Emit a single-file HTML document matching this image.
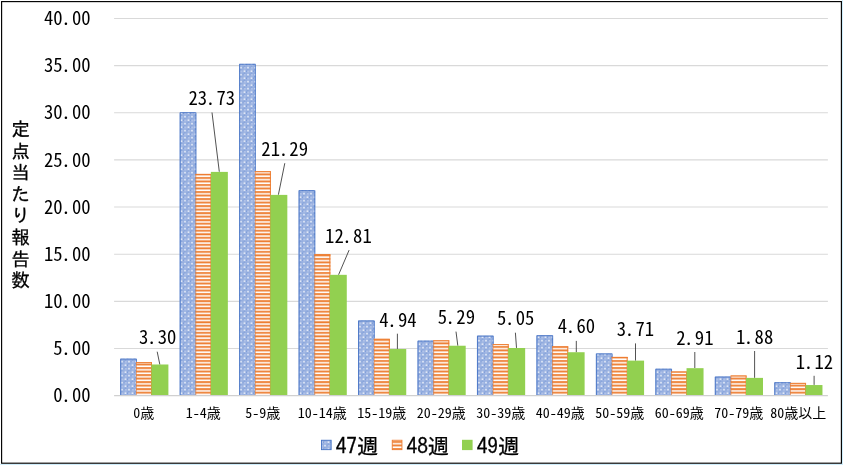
<!DOCTYPE html>
<html lang="ja"><head><meta charset="utf-8"><title>定点当たり報告数</title>
<style>
html,body{margin:0;padding:0;background:#cfeefc;}
body{width:843px;height:465px;overflow:hidden;}
svg{display:block;}
svg{will-change:transform;}
text{font-family:"IPAGothic","Noto Sans CJK JP","Liberation Sans",sans-serif;fill:#000;}
.ax,.dl,.cat{font-family:"Noto Sans CJK JP","IPAGothic","Liberation Sans",sans-serif;font-feature-settings:"hwid";}
.ax{font-size:18.67px;}
.dl{font-size:18.67px;}
.cat{font-size:14px;}
.lg{font-size:21.33px;stroke:#000;stroke-width:0.3px;}
.yt{font-size:18.67px;stroke:#000;stroke-width:0.3px;}
</style></head><body>
<svg width="843" height="465" viewBox="0 0 843 465">
<defs>
<pattern id="pb" width="7" height="7" patternUnits="userSpaceOnUse" patternTransform="translate(1.25,2.8)">
<rect width="7" height="7" fill="#a5bae5"/>
<path d="M0 0.4H7M0 3.9H7M0.4 0V7M3.9 0V7" stroke="#92abde" stroke-width="0.9" fill="none"/>
<rect x="1.05" y="1.1" width="1.5" height="1.4" fill="#ffffff"/>
<rect x="4.55" y="4.6" width="1.5" height="1.4" fill="#ffffff"/>
<rect x="4.6" y="1.2" width="1.3" height="1.2" fill="#c3d1ef"/>
<rect x="1.1" y="4.7" width="1.3" height="1.2" fill="#c3d1ef"/>
<rect x="3.3" y="1.3" width="1.1" height="1" fill="#5f85ce"/>
<rect x="-0.2" y="4.8" width="1.1" height="1" fill="#5f85ce"/>
<rect x="6.8" y="4.8" width="1.1" height="1" fill="#5f85ce"/>
<rect x="1.3" y="3.3" width="1" height="1.1" fill="#6f91d3"/>
<rect x="4.8" y="-0.2" width="1" height="1.1" fill="#6f91d3"/>
<rect x="4.8" y="6.8" width="1" height="1.1" fill="#6f91d3"/>
</pattern>
<pattern id="po" width="3.52" height="3.52" patternUnits="userSpaceOnUse">
<rect width="3.52" height="3.52" fill="#ffffff"/>
<rect y="1.03" width="3.52" height="1.9" fill="#ed7d31"/>
</pattern>
</defs>
<rect x="0" y="0" width="842" height="464" fill="#ffffff"/>

<line x1="114.1" y1="348.46" x2="827.9" y2="348.46" stroke="#d9d9d9" stroke-width="1.1"/>
<line x1="114.1" y1="301.33" x2="827.9" y2="301.33" stroke="#d9d9d9" stroke-width="1.1"/>
<line x1="114.1" y1="254.19" x2="827.9" y2="254.19" stroke="#d9d9d9" stroke-width="1.1"/>
<line x1="114.1" y1="207.05" x2="827.9" y2="207.05" stroke="#d9d9d9" stroke-width="1.1"/>
<line x1="114.1" y1="159.91" x2="827.9" y2="159.91" stroke="#d9d9d9" stroke-width="1.1"/>
<line x1="114.1" y1="112.78" x2="827.9" y2="112.78" stroke="#d9d9d9" stroke-width="1.1"/>
<line x1="114.1" y1="65.64" x2="827.9" y2="65.64" stroke="#d9d9d9" stroke-width="1.1"/>
<line x1="114.1" y1="18.50" x2="827.9" y2="18.50" stroke="#d9d9d9" stroke-width="1.1"/>
<rect x="120.20" y="358.60" width="16.70" height="37.00" fill="url(#pb)"/>
<path d="M120.70 395.6 V359.10 H136.40 V395.6" fill="none" stroke="#4472c4" stroke-opacity="0.85" stroke-width="1.0"/>
<rect x="136.20" y="362.10" width="15.80" height="33.50" fill="url(#po)"/>
<path d="M151.50 395.6 V362.60" fill="none" stroke="#ed7d31" stroke-width="1.0"/>
<path d="M136.40 395.6 V362.60" fill="none" stroke="#ed7d31" stroke-opacity="0.6" stroke-width="1.0"/>
<path d="M135.90 362.60 H152.00" fill="none" stroke="#ed7d31" stroke-width="1.0"/>
<rect x="151.40" y="364.49" width="17.00" height="31.11" fill="#92d050"/>
<rect x="179.66" y="112.20" width="16.70" height="283.40" fill="url(#pb)"/>
<path d="M180.16 395.6 V112.70 H195.86 V395.6" fill="none" stroke="#4472c4" stroke-opacity="0.85" stroke-width="1.0"/>
<rect x="195.66" y="173.90" width="15.80" height="221.70" fill="url(#po)"/>
<path d="M210.96 395.6 V174.40" fill="none" stroke="#ed7d31" stroke-width="1.0"/>
<path d="M195.86 395.6 V174.40" fill="none" stroke="#ed7d31" stroke-opacity="0.6" stroke-width="1.0"/>
<path d="M195.36 174.40 H211.46" fill="none" stroke="#ed7d31" stroke-width="1.0"/>
<rect x="210.86" y="171.89" width="17.00" height="223.71" fill="#92d050"/>
<rect x="239.12" y="63.80" width="16.70" height="331.80" fill="url(#pb)"/>
<path d="M239.62 395.6 V64.30 H255.32 V395.6" fill="none" stroke="#4472c4" stroke-opacity="0.85" stroke-width="1.0"/>
<rect x="255.12" y="171.20" width="15.80" height="224.40" fill="url(#po)"/>
<path d="M270.42 395.6 V171.70" fill="none" stroke="#ed7d31" stroke-width="1.0"/>
<path d="M255.32 395.6 V171.70" fill="none" stroke="#ed7d31" stroke-opacity="0.6" stroke-width="1.0"/>
<path d="M254.82 171.70 H270.92" fill="none" stroke="#ed7d31" stroke-width="1.0"/>
<rect x="270.32" y="194.89" width="17.00" height="200.71" fill="#92d050"/>
<rect x="298.58" y="190.10" width="16.70" height="205.50" fill="url(#pb)"/>
<path d="M299.08 395.6 V190.60 H314.78 V395.6" fill="none" stroke="#4472c4" stroke-opacity="0.85" stroke-width="1.0"/>
<rect x="314.58" y="254.10" width="15.80" height="141.50" fill="url(#po)"/>
<path d="M329.88 395.6 V254.60" fill="none" stroke="#ed7d31" stroke-width="1.0"/>
<path d="M314.78 395.6 V254.60" fill="none" stroke="#ed7d31" stroke-opacity="0.6" stroke-width="1.0"/>
<path d="M314.28 254.60 H330.38" fill="none" stroke="#ed7d31" stroke-width="1.0"/>
<rect x="329.78" y="274.83" width="17.00" height="120.77" fill="#92d050"/>
<rect x="358.04" y="320.40" width="16.70" height="75.20" fill="url(#pb)"/>
<path d="M358.54 395.6 V320.90 H374.24 V395.6" fill="none" stroke="#4472c4" stroke-opacity="0.85" stroke-width="1.0"/>
<rect x="374.04" y="338.70" width="15.80" height="56.90" fill="url(#po)"/>
<path d="M389.34 395.6 V339.20" fill="none" stroke="#ed7d31" stroke-width="1.0"/>
<path d="M374.24 395.6 V339.20" fill="none" stroke="#ed7d31" stroke-opacity="0.6" stroke-width="1.0"/>
<path d="M373.74 339.20 H389.84" fill="none" stroke="#ed7d31" stroke-width="1.0"/>
<rect x="389.24" y="349.03" width="17.00" height="46.57" fill="#92d050"/>
<rect x="417.50" y="340.60" width="16.70" height="55.00" fill="url(#pb)"/>
<path d="M418.00 395.6 V341.10 H433.70 V395.6" fill="none" stroke="#4472c4" stroke-opacity="0.85" stroke-width="1.0"/>
<rect x="433.50" y="340.30" width="15.80" height="55.30" fill="url(#po)"/>
<path d="M448.80 395.6 V340.80" fill="none" stroke="#ed7d31" stroke-width="1.0"/>
<path d="M433.70 395.6 V340.80" fill="none" stroke="#ed7d31" stroke-opacity="0.6" stroke-width="1.0"/>
<path d="M433.20 340.80 H449.30" fill="none" stroke="#ed7d31" stroke-width="1.0"/>
<rect x="448.70" y="345.73" width="17.00" height="49.87" fill="#92d050"/>
<rect x="476.96" y="335.60" width="16.70" height="60.00" fill="url(#pb)"/>
<path d="M477.46 395.6 V336.10 H493.16 V395.6" fill="none" stroke="#4472c4" stroke-opacity="0.85" stroke-width="1.0"/>
<rect x="492.96" y="344.10" width="15.80" height="51.50" fill="url(#po)"/>
<path d="M508.26 395.6 V344.60" fill="none" stroke="#ed7d31" stroke-width="1.0"/>
<path d="M493.16 395.6 V344.60" fill="none" stroke="#ed7d31" stroke-opacity="0.6" stroke-width="1.0"/>
<path d="M492.66 344.60 H508.76" fill="none" stroke="#ed7d31" stroke-width="1.0"/>
<rect x="508.16" y="347.99" width="17.00" height="47.61" fill="#92d050"/>
<rect x="536.42" y="335.20" width="16.70" height="60.40" fill="url(#pb)"/>
<path d="M536.92 395.6 V335.70 H552.62 V395.6" fill="none" stroke="#4472c4" stroke-opacity="0.85" stroke-width="1.0"/>
<rect x="552.42" y="346.30" width="15.80" height="49.30" fill="url(#po)"/>
<path d="M567.72 395.6 V346.80" fill="none" stroke="#ed7d31" stroke-width="1.0"/>
<path d="M552.62 395.6 V346.80" fill="none" stroke="#ed7d31" stroke-opacity="0.6" stroke-width="1.0"/>
<path d="M552.12 346.80 H568.22" fill="none" stroke="#ed7d31" stroke-width="1.0"/>
<rect x="567.62" y="352.23" width="17.00" height="43.37" fill="#92d050"/>
<rect x="595.88" y="353.40" width="16.70" height="42.20" fill="url(#pb)"/>
<path d="M596.38 395.6 V353.90 H612.08 V395.6" fill="none" stroke="#4472c4" stroke-opacity="0.85" stroke-width="1.0"/>
<rect x="611.88" y="356.90" width="15.80" height="38.70" fill="url(#po)"/>
<path d="M627.18 395.6 V357.40" fill="none" stroke="#ed7d31" stroke-width="1.0"/>
<path d="M612.08 395.6 V357.40" fill="none" stroke="#ed7d31" stroke-opacity="0.6" stroke-width="1.0"/>
<path d="M611.58 357.40 H627.68" fill="none" stroke="#ed7d31" stroke-width="1.0"/>
<rect x="627.08" y="360.62" width="17.00" height="34.98" fill="#92d050"/>
<rect x="655.34" y="368.70" width="16.70" height="26.90" fill="url(#pb)"/>
<path d="M655.84 395.6 V369.20 H671.54 V395.6" fill="none" stroke="#4472c4" stroke-opacity="0.85" stroke-width="1.0"/>
<rect x="671.34" y="371.50" width="15.80" height="24.10" fill="url(#po)"/>
<path d="M686.64 395.6 V372.00" fill="none" stroke="#ed7d31" stroke-width="1.0"/>
<path d="M671.54 395.6 V372.00" fill="none" stroke="#ed7d31" stroke-opacity="0.6" stroke-width="1.0"/>
<path d="M671.04 372.00 H687.14" fill="none" stroke="#ed7d31" stroke-width="1.0"/>
<rect x="686.54" y="368.17" width="17.00" height="27.43" fill="#92d050"/>
<rect x="714.80" y="376.50" width="16.70" height="19.10" fill="url(#pb)"/>
<path d="M715.30 395.6 V377.00 H731.00 V395.6" fill="none" stroke="#4472c4" stroke-opacity="0.85" stroke-width="1.0"/>
<rect x="730.80" y="375.50" width="15.80" height="20.10" fill="url(#po)"/>
<path d="M746.10 395.6 V376.00" fill="none" stroke="#ed7d31" stroke-width="1.0"/>
<path d="M731.00 395.6 V376.00" fill="none" stroke="#ed7d31" stroke-opacity="0.6" stroke-width="1.0"/>
<path d="M730.50 376.00 H746.60" fill="none" stroke="#ed7d31" stroke-width="1.0"/>
<rect x="746.00" y="377.88" width="17.00" height="17.72" fill="#92d050"/>
<rect x="774.26" y="382.20" width="16.70" height="13.40" fill="url(#pb)"/>
<path d="M774.76 395.6 V382.70 H790.46 V395.6" fill="none" stroke="#4472c4" stroke-opacity="0.85" stroke-width="1.0"/>
<rect x="790.26" y="382.90" width="15.80" height="12.70" fill="url(#po)"/>
<path d="M805.56 395.6 V383.40" fill="none" stroke="#ed7d31" stroke-width="1.0"/>
<path d="M790.46 395.6 V383.40" fill="none" stroke="#ed7d31" stroke-opacity="0.6" stroke-width="1.0"/>
<path d="M789.96 383.40 H806.06" fill="none" stroke="#ed7d31" stroke-width="1.0"/>
<rect x="805.46" y="385.04" width="17.00" height="10.56" fill="#92d050"/>
<line x1="114.1" y1="395.6" x2="827.9" y2="395.6" stroke="#d0d0d0" stroke-width="1.2"/>
<text class="ax" x="58.03 65.96 76.70 86.03" y="402.20" text-anchor="middle">0.00</text>
<text class="ax" x="58.03 65.96 76.70 86.03" y="355.06" text-anchor="middle">5.00</text>
<text class="ax" x="48.69 58.03 65.96 76.70 86.03" y="307.93" text-anchor="middle">10.00</text>
<text class="ax" x="48.69 58.03 65.96 76.70 86.03" y="260.79" text-anchor="middle">15.00</text>
<text class="ax" x="48.69 58.03 65.96 76.70 86.03" y="213.65" text-anchor="middle">20.00</text>
<text class="ax" x="48.69 58.03 65.96 76.70 86.03" y="166.51" text-anchor="middle">25.00</text>
<text class="ax" x="48.69 58.03 65.96 76.70 86.03" y="119.38" text-anchor="middle">30.00</text>
<text class="ax" x="48.69 58.03 65.96 76.70 86.03" y="72.24" text-anchor="middle">35.00</text>
<text class="ax" x="48.69 58.03 65.96 76.70 86.03" y="25.10" text-anchor="middle">40.00</text>
<text class="cat" x="136.84 147.34" y="417.70" text-anchor="middle">0歳</text>
<text class="cat" x="189.32 196.32 203.32 213.82" y="417.70" text-anchor="middle">1-4歳</text>
<text class="cat" x="248.81 255.81 262.81 273.31" y="417.70" text-anchor="middle">5-9歳</text>
<text class="cat" x="301.29 308.29 315.29 322.29 329.29 339.79" y="417.70" text-anchor="middle">10-14歳</text>
<text class="cat" x="360.77 367.77 374.77 381.77 388.77 399.27" y="417.70" text-anchor="middle">15-19歳</text>
<text class="cat" x="420.26 427.26 434.26 441.26 448.26 458.76" y="417.70" text-anchor="middle">20-29歳</text>
<text class="cat" x="479.74 486.74 493.74 500.74 507.74 518.24" y="417.70" text-anchor="middle">30-39歳</text>
<text class="cat" x="539.22 546.22 553.22 560.22 567.22 577.72" y="417.70" text-anchor="middle">40-49歳</text>
<text class="cat" x="598.71 605.71 612.71 619.71 626.71 637.21" y="417.70" text-anchor="middle">50-59歳</text>
<text class="cat" x="658.19 665.19 672.19 679.19 686.19 696.69" y="417.70" text-anchor="middle">60-69歳</text>
<text class="cat" x="717.67 724.67 731.67 738.67 745.67 756.17" y="417.70" text-anchor="middle">70-79歳</text>
<text class="cat" x="773.66 780.66 791.16 805.16 819.16" y="417.70" text-anchor="middle">80歳以上</text>
<line x1="157.2" y1="351.7" x2="159.8" y2="364.4" stroke="#262626" stroke-width="0.8"/>
<text class="dl" x="143.70 151.63 162.37 171.70" y="344.20" text-anchor="middle">3.30</text>
<line x1="212" y1="112.5" x2="219.3" y2="171.7" stroke="#262626" stroke-width="0.8"/>
<text class="dl" x="193.13 202.47 210.40 221.14 230.47" y="104.80" text-anchor="middle">23.73</text>
<line x1="284.8" y1="163.2" x2="278.4" y2="194.7" stroke="#262626" stroke-width="0.8"/>
<text class="dl" x="266.03 275.37 283.30 294.03 303.37" y="156.00" text-anchor="middle">21.29</text>
<line x1="349.1" y1="250.1" x2="338.6" y2="274.7" stroke="#262626" stroke-width="0.8"/>
<text class="dl" x="329.73 339.06 347.00 357.73 367.07" y="242.70" text-anchor="middle">12.81</text>
<line x1="397.4" y1="333.7" x2="397.4" y2="348.9" stroke="#262626" stroke-width="0.8"/>
<text class="dl" x="383.90 391.83 402.57 411.90" y="326.60" text-anchor="middle">4.94</text>
<line x1="456.0" y1="331.6" x2="457.8" y2="345.6" stroke="#262626" stroke-width="0.8"/>
<text class="dl" x="442.30 450.23 460.97 470.30" y="324.10" text-anchor="middle">5.29</text>
<line x1="515.4" y1="332.7" x2="516.5" y2="347.9" stroke="#262626" stroke-width="0.8"/>
<text class="dl" x="501.70 509.63 520.37 529.70" y="325.30" text-anchor="middle">5.05</text>
<line x1="576.3" y1="340.9" x2="576.3" y2="352.1" stroke="#262626" stroke-width="0.8"/>
<text class="dl" x="562.40 570.33 581.07 590.40" y="333.40" text-anchor="middle">4.60</text>
<line x1="635.5" y1="343.4" x2="635.5" y2="360.5" stroke="#262626" stroke-width="0.8"/>
<text class="dl" x="621.50 629.43 640.17 649.50" y="335.50" text-anchor="middle">3.71</text>
<line x1="694.8" y1="352.0" x2="694.8" y2="368.0" stroke="#262626" stroke-width="0.8"/>
<text class="dl" x="680.80 688.73 699.47 708.80" y="344.80" text-anchor="middle">2.91</text>
<line x1="754.6" y1="351.0" x2="754.6" y2="377.8" stroke="#262626" stroke-width="0.8"/>
<text class="dl" x="740.60 748.53 759.27 768.60" y="343.60" text-anchor="middle">1.88</text>
<line x1="814.1" y1="375.8" x2="814.1" y2="384.9" stroke="#262626" stroke-width="0.8"/>
<text class="dl" x="800.50 808.43 819.17 828.50" y="368.70" text-anchor="middle">1.12</text>
<text class="yt" x="20.70 20.70 20.70 20.70 20.70 20.70 20.70 20.70" y="135.90 157.51 179.12 200.73 222.34 243.95 265.56 287.17" text-anchor="middle">定点当たり報告数</text>
<rect x="321.45" y="440.25" width="9.7" height="9.4" fill="url(#pb)" stroke="#4472c4" stroke-width="0.9"/>
<text class="lg" x="341.03 351.70 367.70" y="453.70" text-anchor="middle">47週</text>
<rect x="392.25" y="440.25" width="9.7" height="9.4" fill="url(#po)" stroke="#ed7d31" stroke-width="0.9"/>
<text class="lg" x="411.83 422.50 438.50" y="453.70" text-anchor="middle">48週</text>
<rect x="462.0" y="439.8" width="10.6" height="10.3" fill="#92d050"/>
<text class="lg" x="482.03 492.70 508.70" y="453.70" text-anchor="middle">49週</text>
<rect x="1.6" y="1.6" width="839.8" height="461.6" fill="none" stroke="#000" stroke-width="1.15"/>
</svg></body></html>
